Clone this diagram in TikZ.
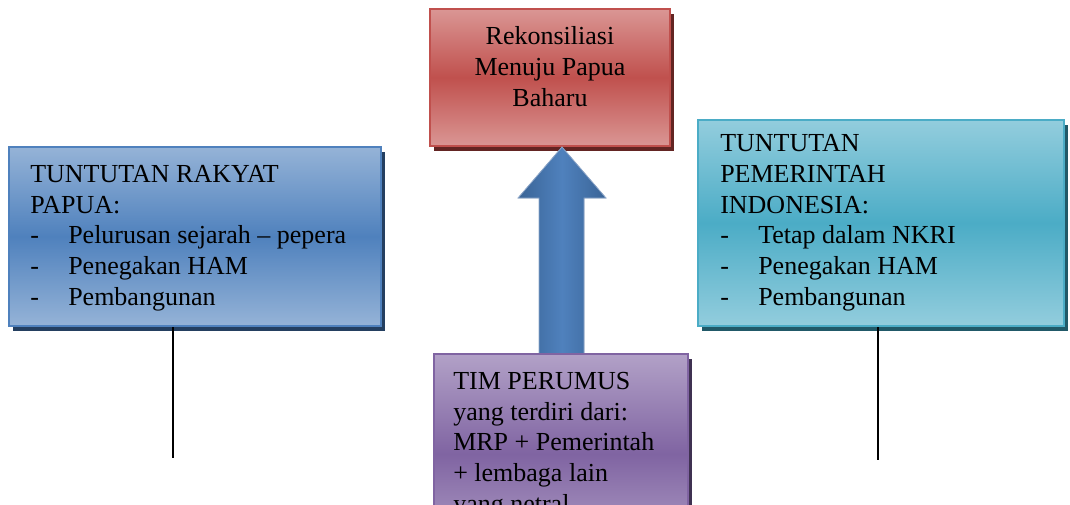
\documentclass[tikz,border=0pt]{standalone}
\usepackage{fontspec}
\setmainfont{Liberation Serif}
\usetikzlibrary{shadows}
\definecolor{rkred}{HTML}{C0504D}
\definecolor{rkredlight}{HTML}{DA9694}
\definecolor{rkredshadow}{HTML}{632523}
\definecolor{rkblue}{HTML}{4F81BD}
\definecolor{rkbluelight}{HTML}{95B3D7}
\definecolor{rkblueshadow}{HTML}{243F60}
\definecolor{rkteal}{HTML}{4BACC6}
\definecolor{rktealight}{HTML}{93CDDD}
\definecolor{rktealshadow}{HTML}{215968}
\definecolor{rkpurple}{HTML}{8064A2}
\definecolor{rkpurplelight}{HTML}{B2A1C7}
\definecolor{rkpurpleshadow}{HTML}{3F3151}
\definecolor{rkarrowdark}{HTML}{3A6496}
\definecolor{rkarrowedge}{HTML}{8FA8CA}
\definecolor{rkarrowshadow}{HTML}{2B4A73}
\newcommand{\dashitem}{\makebox[28.5pt][l]{-}}
\tikzset{
  font=\fontsize{19.5pt}{23pt}\selectfont
}

\begin{document}
\begin{tikzpicture}[x=0.75pt,y=-0.75pt,
  box/.style={rectangle,line width=1.5pt,anchor=north west,inner sep=0pt},
  redbox/.style={box,draw=rkred,top color=rkredlight,bottom color=rkredlight,middle color=rkred,
    drop shadow={shadow xshift=3pt,shadow yshift=-3.5pt,fill=rkredshadow,opacity=1}},
  bluebox/.style={box,draw=rkblue,top color=rkbluelight,bottom color=rkbluelight,middle color=rkblue,
    drop shadow={shadow xshift=3pt,shadow yshift=-3.5pt,fill=rkblueshadow,opacity=1}},
  tealbox/.style={box,draw=rkteal,top color=rktealight,bottom color=rktealight,middle color=rkteal,
    drop shadow={shadow xshift=3pt,shadow yshift=-3.5pt,fill=rktealshadow,opacity=1}},
  purplebox/.style={box,draw=rkpurple,top color=rkpurplelight,bottom color=rkpurplelight,middle color=rkpurple,
    drop shadow={shadow xshift=3pt,shadow yshift=-3.5pt,fill=rkpurpleshadow,opacity=1}},
  txt/.style={inner sep=0pt,align=left,anchor=base west}]
\useasboundingbox (0,0) rectangle (1070,504);
\fill[white] (0,0) rectangle (1070,504);
\clip (0,0) rectangle (1070,504);

\node[redbox,minimum width=180pt,minimum height=102.75pt] (rekonsiliasi) at (429,8) {};
\node[inner sep=0pt,align=center,anchor=base] (rekonsiliasitext) at ([shift={(0,98)}]rekonsiliasi.north)
  {Rekonsiliasi\\Menuju Papua\\Baharu};

\node[bluebox,minimum width=279pt,minimum height=134.25pt] (rakyat) at (8,146) {};
\node[txt] (rakyattext) at ([shift={(22,159)}]rakyat.north west)
  {TUNTUTAN RAKYAT\\PAPUA:\\\dashitem Pelurusan sejarah -- pepera\\\dashitem Penegakan HAM\\\dashitem Pembangunan};

\node[tealbox,minimum width=274.5pt,minimum height=154.5pt] (pemerintah) at (697,119) {};
\node[txt] (pemerintahtext) at ([shift={(23,186)}]pemerintah.north west)
  {TUNTUTAN\\PEMERINTAH\\INDONESIA:\\\dashitem Tetap dalam NKRI\\\dashitem Penegakan HAM\\\dashitem Pembangunan};

\coordinate (tip) at (562,147);
\fill[rkarrowshadow,shift={(3,3)}] (tip) -- ++(44,51) -- ++(-22,0) -- ++(0,157) -- ++(-45,0) -- ++(0,-157) -- ++(-21,0) -- cycle;
\draw[rkarrowedge,line width=0.6pt,left color=rkarrowdark,right color=rkarrowdark,middle color=rkblue]
  (tip) -- ++(44,51) -- ++(-22,0) -- ++(0,157) -- ++(-45,0) -- ++(0,-157) -- ++(-21,0) -- cycle;

\node[purplebox,minimum width=190.5pt,minimum height=150pt] (perumus) at (433,353) {};
\node[txt] (perumustext) at ([shift={(20,159)}]perumus.north west)
  {TIM PERUMUS\\yang terdiri dari:\\MRP + Pemerintah\\+ lembaga lain\\yang netral};

\coordinate (rakyatend) at (173,458);
\coordinate (pemerintahend) at (878,460);
\draw[line width=0.9pt] (rakyat.south -| rakyatend) -- (rakyatend);
\draw[line width=0.9pt] (pemerintah.south -| pemerintahend) -- (pemerintahend);
\end{tikzpicture}
\end{document}
